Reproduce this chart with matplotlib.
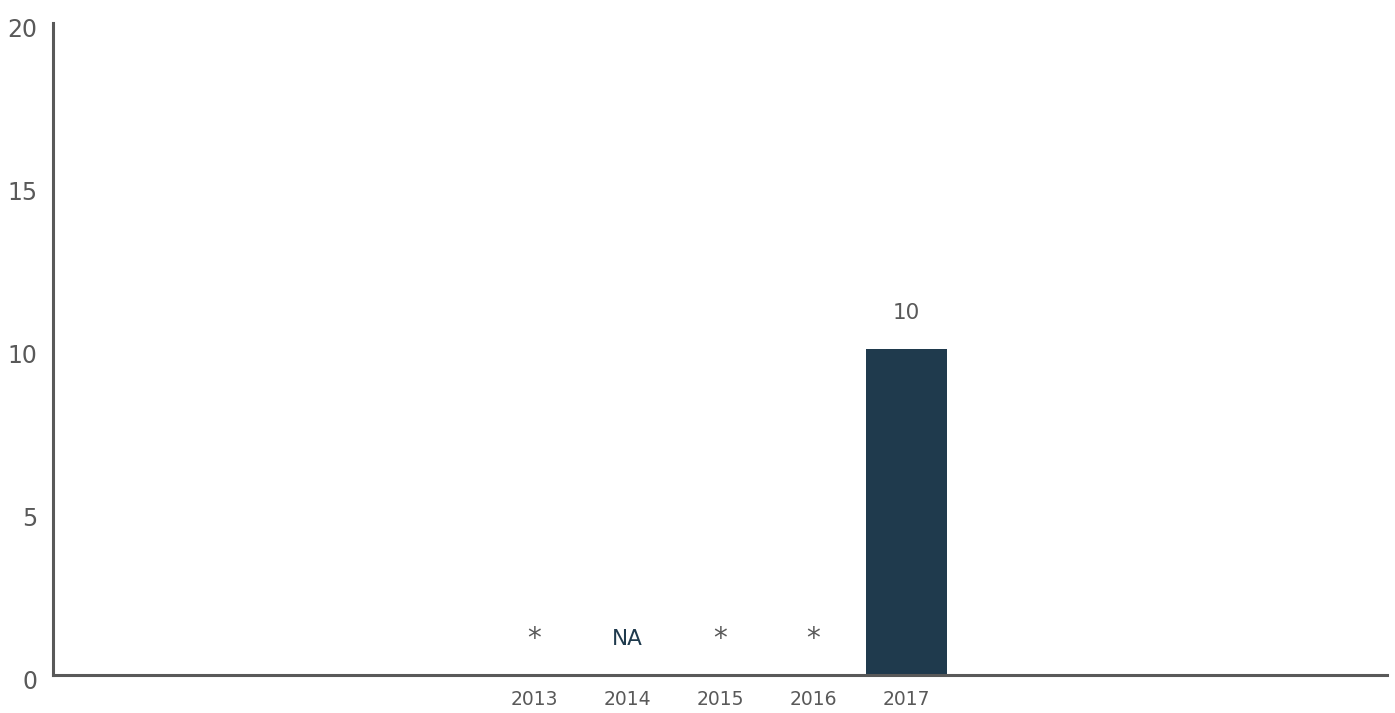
import matplotlib.pyplot as plt
import matplotlib.transforms as mtransforms

years = ["2013", "2014", "2015", "2016", "2017"]
values = [0, 0, 0, 0, 10]
labels = ["*", "NA", "*", "*", "10"]
label_colors = ["#595959", "#1f3a4d", "#595959", "#595959", "#595959"]
yticks = [0, 5, 10, 15, 20]

plt.rcParams["font.family"] = ["DejaVu Sans"]

fig = plt.figure(figsize=(13.95, 7.13), dpi=100)
ax = fig.add_axes([53 / 1395, 38 / 713, 1334 / 1395, 652 / 713])

x = list(range(len(years)))
ax.bar(x, values, width=0.87, color="#1f3a4d")

for xi, v, lab, c in zip(x, values, labels, label_colors):
    # asterisks are tiny in DejaVu, draw them a bit bigger
    if lab == "*":
        size, dy = 20, 26
    else:
        size, dy = 15.5, 26
    ax.annotate(lab, (xi, v), xytext=(0, dy), textcoords="offset points",
                ha="center", va="center", fontsize=size, color=c)

ax.set_xlim(-5.17, len(years) - 1 + 5.17)
ax.set_ylim(0, 20)
ax.set_xticks(x)
ax.set_xticklabels(years)
ax.set_yticks(yticks)

for side in ["top", "right"]:
    ax.spines[side].set_visible(False)
for side in ["left", "bottom"]:
    ax.spines[side].set_color("#595959")
    ax.spines[side].set_linewidth(2.2)

ax.tick_params(axis="x", length=0, pad=11, labelsize=13.5, labelcolor="#595959")
ax.tick_params(axis="y", length=0, pad=11, labelsize=17, labelcolor="#595959")

# nudge the y labels down a little, like in the original
shift = mtransforms.ScaledTranslation(0, -3 / 72, fig.dpi_scale_trans)
for lbl in ax.get_yticklabels():
    lbl.set_transform(lbl.get_transform() + shift)

fig.savefig("out.png", dpi=100)
